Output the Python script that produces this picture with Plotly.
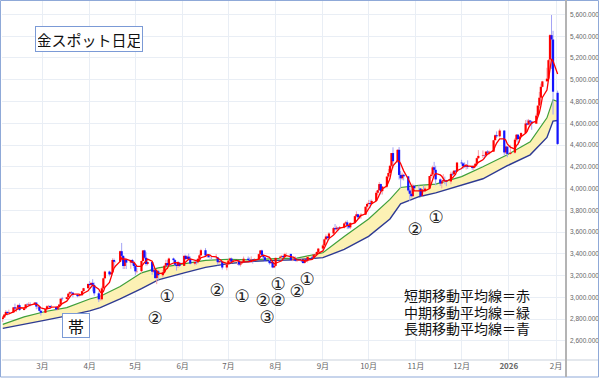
import pandas as pd
import plotly.graph_objects as go

# ---------------- data (gold spot, daily, USD) ----------------
dates = pd.bdate_range("2025-02-03", "2026-02-02")
dates = dates[~dates.isin(pd.to_datetime(["2025-12-25", "2026-01-01"]))]

opens = [
 2800, 2815, 2842, 2866, 2856, 2861, 2908, 2898, 2904, 2928, 2883, 2898, 2935, 2933, 2939, 2936, 2952, 2915, 2916, 2876,
 2858, 2893, 2918, 2920, 2910, 2910, 2889, 2916, 2934, 2988, 2984, 3001, 3034, 3047, 3043, 3023, 3011, 3020, 3019, 3057, 3084,
 3123, 3113, 3133, 3114, 3037, 2982, 2982, 3083, 3175, 3237, 3211, 3230, 3343, 3327, 3327, 3424, 3381, 3288, 3349, 3319, 3343, 3317,
 3288, 3239, 3241, 3334, 3431, 3364, 3306, 3325, 3236, 3250, 3177, 3240, 3203, 3230, 3290, 3315, 3294, 3357, 3342, 3300, 3288, 3318,
 3289, 3381, 3352, 3374, 3353, 3310, 3325, 3322, 3354, 3386, 3433, 3385, 3389, 3369, 3369, 3368, 3368, 3323, 3333, 3328, 3274,
 3303, 3338, 3357, 3326, 3337, 3337, 3301, 3313, 3324, 3355, 3343, 3324, 3347, 3339, 3350, 3397, 3431, 3387, 3368, 3337, 3314, 3326, 3275,
 3289, 3363, 3373, 3380, 3369, 3397, 3398, 3342, 3348, 3356, 3335, 3336, 3332, 3315, 3348, 3339, 3372, 3365, 3393, 3397, 3417,
 3448, 3477, 3533, 3559, 3545, 3587, 3636, 3626, 3640, 3634, 3643, 3679, 3689, 3659, 3643, 3685, 3746, 3763, 3736, 3749, 3760, 3833,
 3858, 3866, 3857, 3886, 3961, 3985, 4041, 3976, 4018, 4110, 4143, 4209, 4326, 4251, 4356, 4125, 4094, 4126, 4112, 3982, 3952, 3930, 4025,
 4002, 4001, 3932, 3980, 3977, 4000, 4115, 4128, 4195, 4172, 4084, 4046, 4067, 4078, 4077, 4065, 4135, 4130, 4164, 4156,
 4239, 4231, 4206, 4200, 4208, 4198, 4189, 4208, 4228, 4279, 4300, 4305, 4303, 4339, 4331, 4339, 4444, 4490, 4480, 4533, 4332, 4386,
 4318, 4330, 4449, 4495, 4455, 4478, 4510, 4598, 4588, 4625, 4615, 4596, 4670, 4762, 4835, 4935, 4985, 5010, 5185, 5410, 5370,
 4880]
highs = [
 2830, 2845, 2882, 2870, 2887, 2911, 2942, 2908, 2937, 2944, 2906, 2938, 2947, 2955, 2954, 2956, 2953, 2926, 2922, 2882,
 2894, 2928, 2930, 2927, 2930, 2915, 2920, 2940, 2990, 3004, 3004, 3038, 3055, 3057, 3045, 3030, 3025, 3032, 3060, 3087, 3128,
 3149, 3135, 3167, 3136, 3055, 3020, 3099, 3180, 3245, 3245, 3234, 3358, 3357, 3330, 3430, 3500, 3386, 3370, 3352, 3346, 3353, 3327,
 3300, 3270, 3337, 3435, 3437, 3415, 3342, 3327, 3266, 3265, 3252, 3252, 3250, 3296, 3345, 3345, 3366, 3365, 3350, 3325, 3330, 3325,
 3392, 3392, 3385, 3403, 3375, 3340, 3349, 3360, 3398, 3446, 3452, 3403, 3395, 3375, 3375, 3398, 3370, 3345, 3350, 3335, 3310,
 3350, 3365, 3365, 3345, 3345, 3345, 3320, 3330, 3375, 3375, 3366, 3377, 3345, 3361, 3402, 3434, 3438, 3395, 3375, 3345, 3334, 3334, 3315,
 3363, 3385, 3390, 3390, 3409, 3410, 3404, 3358, 3375, 3375, 3346, 3358, 3345, 3350, 3351, 3378, 3376, 3394, 3400, 3423, 3454,
 3490, 3540, 3578, 3565, 3600, 3646, 3674, 3658, 3643, 3655, 3685, 3703, 3707, 3665, 3687, 3750, 3791, 3768, 3761, 3775, 3835, 3872,
 3895, 3897, 3899, 3977, 3990, 4059, 4045, 4022, 4116, 4179, 4218, 4326, 4379, 4360, 4381, 4161, 4146, 4134, 4113, 4000, 4030, 4046, 4034,
 4030, 4003, 3995, 4027, 4020, 4116, 4148, 4210, 4245, 4210, 4093, 4082, 4132, 4110, 4080, 4155, 4155, 4170, 4169, 4245,
 4264, 4240, 4241, 4219, 4259, 4214, 4218, 4236, 4285, 4353, 4350, 4310, 4345, 4352, 4349, 4448, 4498, 4525, 4550, 4536, 4394, 4380,
 4402, 4463, 4500, 4500, 4480, 4518, 4630, 4635, 4640, 4630, 4620, 4690, 4765, 4888, 4965, 4990, 5110, 5190, 5420, 5595, 5450,
 4900]
lows = [
 2772, 2810, 2840, 2834, 2852, 2860, 2880, 2865, 2898, 2877, 2882, 2896, 2924, 2925, 2918, 2930, 2890, 2894, 2870, 2833,
 2858, 2885, 2905, 2895, 2900, 2880, 2880, 2906, 2932, 2970, 2982, 3000, 3025, 3028, 3000, 3000, 3010, 3012, 3015, 3054, 3076,
 3100, 3105, 3054, 3015, 2956, 2970, 2972, 3077, 3170, 3193, 3205, 3228, 3283, 3320, 3324, 3367, 3260, 3260, 3260, 3262, 3300, 3267,
 3202, 3220, 3225, 3330, 3355, 3290, 3294, 3208, 3225, 3170, 3121, 3155, 3182, 3216, 3285, 3277, 3286, 3324, 3285, 3245, 3270, 3280,
 3289, 3345, 3345, 3340, 3303, 3293, 3300, 3310, 3340, 3380, 3380, 3365, 3365, 3355, 3345, 3350, 3295, 3312, 3320, 3255, 3248,
 3300, 3330, 3312, 3322, 3297, 3288, 3283, 3310, 3322, 3341, 3320, 3320, 3310, 3335, 3345, 3384, 3381, 3351, 3325, 3301, 3308, 3268, 3268,
 3282, 3347, 3355, 3357, 3365, 3380, 3342, 3333, 3343, 3330, 3324, 3323, 3312, 3312, 3327, 3321, 3360, 3352, 3375, 3384, 3405,
 3436, 3470, 3527, 3511, 3530, 3577, 3613, 3617, 3608, 3622, 3632, 3675, 3627, 3628, 3627, 3685, 3736, 3718, 3723, 3722, 3758, 3793,
 3854, 3820, 3853, 3885, 3940, 3985, 3945, 3945, 4005, 4092, 4135, 4196, 4185, 4235, 4082, 4004, 4077, 4074, 3970, 3886, 3917, 3920, 3980,
 3970, 3929, 3925, 3965, 3968, 3995, 4093, 4108, 4155, 4030, 4024, 4000, 4062, 4039, 4022, 4040, 4115, 4130, 4140, 4151,
 4210, 4181, 4190, 4175, 4180, 4172, 4170, 4190, 4204, 4270, 4280, 4270, 4303, 4308, 4310, 4338, 4443, 4465, 4470, 4305, 4316, 4288,
 4310, 4320, 4432, 4420, 4420, 4465, 4510, 4580, 4580, 4580, 4540, 4595, 4660, 4740, 4780, 4930, 4990, 5000, 5170, 5100, 4680,
 4400]
closes = [
 2815, 2842, 2866, 2856, 2861, 2908, 2898, 2904, 2928, 2883, 2898, 2935, 2933, 2939, 2936, 2952, 2915, 2916, 2876, 2858,
 2893, 2918, 2920, 2910, 2910, 2889, 2916, 2934, 2988, 2984, 3001, 3034, 3047, 3043, 3023, 3011, 3020, 3019, 3057, 3084, 3123,
 3113, 3133, 3114, 3037, 2982, 2982, 3083, 3175, 3237, 3211, 3230, 3343, 3327, 3327, 3424, 3381, 3288, 3349, 3319, 3343, 3317, 3288,
 3239, 3241, 3334, 3431, 3364, 3306, 3325, 3236, 3250, 3177, 3240, 3203, 3230, 3290, 3315, 3294, 3357, 3342, 3300, 3288, 3318, 3289,
 3381, 3352, 3374, 3353, 3310, 3325, 3322, 3354, 3386, 3433, 3385, 3389, 3369, 3369, 3368, 3368, 3323, 3333, 3328, 3274, 3303,
 3338, 3357, 3326, 3337, 3337, 3301, 3313, 3324, 3355, 3343, 3324, 3347, 3339, 3350, 3397, 3431, 3387, 3368, 3337, 3314, 3326, 3275, 3289,
 3363, 3373, 3380, 3369, 3397, 3398, 3342, 3348, 3356, 3335, 3336, 3332, 3315, 3348, 3339, 3372, 3365, 3393, 3397, 3417, 3448,
 3477, 3533, 3559, 3545, 3587, 3636, 3626, 3640, 3634, 3643, 3679, 3689, 3659, 3643, 3685, 3746, 3763, 3736, 3749, 3760, 3833, 3858,
 3866, 3857, 3886, 3961, 3985, 4041, 3976, 4018, 4110, 4143, 4209, 4326, 4251, 4356, 4125, 4094, 4126, 4112, 3982, 3952, 3930, 4025, 4002,
 4001, 3932, 3980, 3977, 4000, 4115, 4128, 4195, 4172, 4084, 4046, 4067, 4078, 4077, 4065, 4135, 4130, 4164, 4156, 4239,
 4231, 4206, 4200, 4208, 4198, 4189, 4208, 4228, 4279, 4300, 4305, 4303, 4339, 4331, 4339, 4444, 4490, 4480, 4533, 4332, 4386, 4318,
 4330, 4449, 4495, 4455, 4478, 4510, 4598, 4588, 4625, 4615, 4596, 4670, 4762, 4835, 4935, 4985, 5010, 5180, 5410, 5370, 4890,
 4410]

# medium (green) and long (blue) moving averages
ma_dates = ["2025-02-03", "2025-02-17", "2025-03-03", "2025-03-17", "2025-04-01", "2025-04-08",
            "2025-04-21", "2025-05-05", "2025-05-16", "2025-06-02", "2025-06-16", "2025-07-01",
            "2025-07-15", "2025-08-01", "2025-08-15", "2025-09-01", "2025-09-15", "2025-10-01",
            "2025-10-15", "2025-10-22", "2025-11-03", "2025-11-14", "2025-12-01", "2025-12-15",
            "2025-12-31", "2026-01-15", "2026-01-26", "2026-01-30", "2026-02-02"]
ma_mid = [2752, 2820, 2870, 2905, 2985, 3010, 3100, 3225, 3270, 3305, 3340, 3350, 3345, 3355, 3360,
          3410, 3560, 3720, 3900, 4010, 4030, 4040, 4110, 4200, 4310, 4430, 4650, 4815, 4800]
ma_long = [2715, 2750, 2790, 2830, 2875, 2905, 2985, 3080, 3160, 3225, 3275, 3310, 3330, 3340, 3345,
           3365, 3440, 3560, 3720, 3860, 3925, 3960, 4030, 4090, 4210, 4310, 4470, 4620, 4625]

month_ticks = ["2025-03-01", "2025-04-01", "2025-05-01", "2025-06-01", "2025-07-01", "2025-08-01",
               "2025-09-01", "2025-10-01", "2025-11-01", "2025-12-01", "2026-01-01", "2026-02-01"]
month_labels = ["3月", "4月", "5月", "6月", "7月", "8月", "9月", "10月", "11月", "12月", "<b>2026</b>", "2月"]

# ---------------- helpers ----------------
df = pd.DataFrame({"d": dates, "o": opens, "h": highs, "l": lows, "c": closes})
df["ma_short"] = df["c"].rolling(5, min_periods=1).mean()
up = df[df["c"] >= df["o"]]
dn = df[df["c"] < df["o"]]


def segs(frame, a, b):
    xs, ys = [], []
    for _, r in frame.iterrows():
        xs += [r["d"], r["d"], None]
        ys += [r[a], r[b], None]
    return xs, ys


W, H = 600, 381
L, R, T, B = 2, 34, 0, 21


def P(px, py):
    return (px - L) / (W - L - R), (H - B - py) / (H - T - B)


fig = go.Figure()
fig.add_trace(go.Scatter(x=pd.to_datetime(ma_dates), y=ma_long, mode="lines",
                         line=dict(color="#2e3a92", width=1.4), hoverinfo="skip"))
fig.add_trace(go.Scatter(x=pd.to_datetime(ma_dates), y=ma_mid, mode="lines",
                         line=dict(color="#3f9f3a", width=1.2), fill="tonexty",
                         fillcolor="#fcf1b4", hoverinfo="skip"))
x, y = segs(up, "l", "h")
fig.add_trace(go.Scatter(x=x, y=y, mode="lines", line=dict(color="#f7a0a8", width=1), hoverinfo="skip"))
x, y = segs(dn, "l", "h")
fig.add_trace(go.Scatter(x=x, y=y, mode="lines", line=dict(color="#a3a3f5", width=1), hoverinfo="skip"))
x, y = segs(up, "o", "c")
fig.add_trace(go.Scatter(x=x, y=y, mode="lines", line=dict(color="#ff0000", width=2.2), hoverinfo="skip"))
x, y = segs(dn, "o", "c")
fig.add_trace(go.Scatter(x=x, y=y, mode="lines", line=dict(color="#1414ff", width=2.2), hoverinfo="skip"))
fig.add_trace(go.Scatter(x=df["d"], y=df["ma_short"], mode="lines",
                         line=dict(color="#ff0000", width=1.3), hoverinfo="skip"))

jp = "Noto Sans CJK JP"
ann = []
tx, ty = P(89, 39)
ann.append(dict(x=tx, y=ty, text="金スポット日足", font=dict(family=jp, size=15, color="#111"),
                bordercolor="#7b9ad6", borderwidth=1, borderpad=2, bgcolor="white",
                width=102, height=20))
tx, ty = P(76, 325.5)
ann.append(dict(x=tx, y=ty, text="帯", font=dict(family=jp, size=16, color="#111"),
                bordercolor="#7b9ad6", borderwidth=1, borderpad=2, bgcolor="white",
                width=22, height=19))
for i, t in enumerate(["短期移動平均線＝赤", "中期移動平均線＝緑", "長期移動平均線＝青"]):
    tx, ty = P(402, 295 + 16.7 * i)
    ann.append(dict(x=tx, y=ty, text=t, xanchor="left", height=16,
                    font=dict(family=jp, size=14, color="#111")))
marks = [("①", 167, 296), ("②", 155, 317.5), ("②", 216.7, 290), ("①", 242.3, 296),
         ("①", 278.3, 284.3), ("②", 263.3, 300), ("②", 277.7, 300), ("③", 266.7, 316.7),
         ("②", 296.7, 291), ("①", 307.3, 279.3), ("①", 435.5, 217), ("②", 414.6, 229.2)]
for t, px, py in marks:
    tx, ty = P(px, py)
    ann.append(dict(x=tx, y=ty, text=t, width=14, height=14,
                    font=dict(family="DejaVu Sans", size=17, color="#222")))
for a in ann:
    a.update(xref="paper", yref="paper", showarrow=False)
    a.setdefault("xanchor", "center")
    a.setdefault("yanchor", "middle")

shapes = []
x0, y0 = P(0.5, 377)
x1, y1 = P(598.5, 0.5)
shapes.append(dict(type="rect", xref="paper", yref="paper", x0=x0, y0=y0, x1=x1, y1=y1,
                   line=dict(color="#8fa9d8", width=1)))
x0, y0 = P(2, 360)
x1, _ = P(598, 360)
shapes.append(dict(type="line", xref="paper", yref="paper", x0=x0, y0=y0, x1=x1, y1=y0,
                   line=dict(color="#c9d1dc", width=1)))
x0, y0 = P(566, 0)
_, y1 = P(566, 377)
shapes.append(dict(type="line", xref="paper", yref="paper", x0=x0, y0=y0, x1=x0, y1=y1,
                   line=dict(color="#b4b4b4", width=2)))

fig.update_layout(
    width=W, height=H, margin=dict(l=L, r=R, t=T, b=B, autoexpand=False),
    paper_bgcolor="white", plot_bgcolor="white", showlegend=False,
    annotations=ann, shapes=shapes,
    xaxis=dict(type="date", range=["2025-02-02 12:00", "2026-02-07 12:00"],
               tickvals=pd.to_datetime(month_ticks), ticktext=month_labels, automargin=False,
               showgrid=True, gridcolor="#e9eef5", gridwidth=1, zeroline=False,
               ticks="", tickfont=dict(family=jp, size=8, color="#666"), showline=False),
    yaxis=dict(range=[2424, 5733], side="right", tick0=2600, dtick=200, tickformat=",.3f",
               automargin=False,
               showgrid=True, gridcolor="#e9eef5", gridwidth=1, zeroline=False, ticks="",
               tickfont=dict(family="Liberation Sans", size=6.5, color="#666"), showline=False,
               ticklabelstandoff=3),
)

fig.write_html("out.html", config={"displayModeBar": False},
               post_script="document.body.style.margin='0';document.body.style.overflow='hidden';")
